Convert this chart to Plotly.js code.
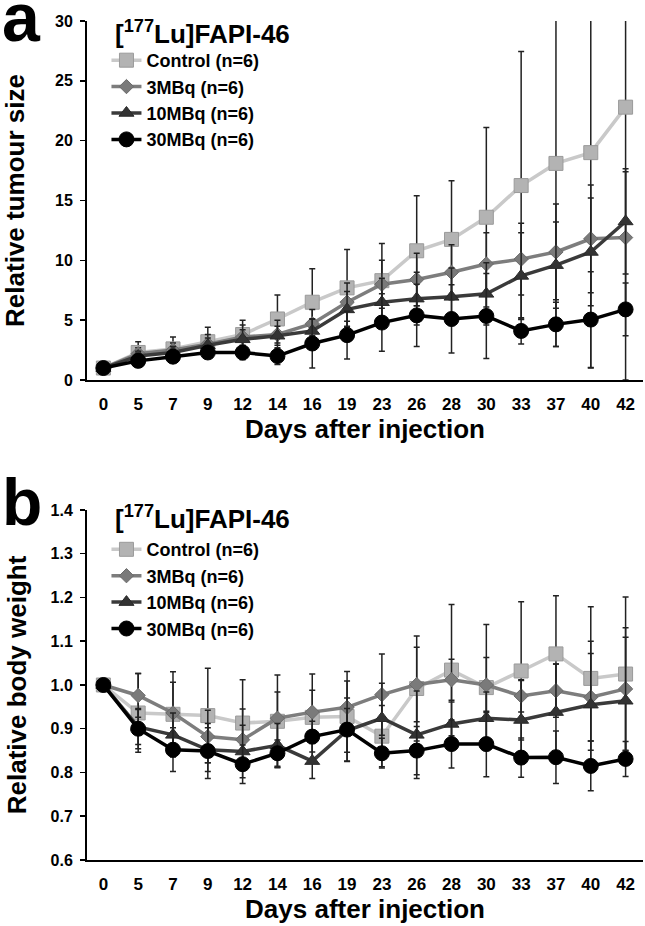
<!DOCTYPE html>
<html><head><meta charset="utf-8">
<script src="https://cdn.plot.ly/plotly-3.0.1.min.js"></script>
<style>html,body{margin:0;padding:0;background:#fff}</style>
</head><body><div id="chart" style="width:645px;height:926px"></div>
<script>
const days = ['0','5','7','9','12','14','16','19','23','26','28','30','33','37','40','42'];
const seriesNames = ['Control (n=6)','3MBq (n=6)','10MBq (n=6)','30MBq (n=6)'];

// Panel a: relative tumour size (mean, SD)
const tumourControl   = [1.0,2.3,2.6,3.2,3.8,5.1,6.5,7.7,8.3,10.8,11.75,13.6,16.25,18.1,19.0,22.8];
const tumourControlSD = [0.05,0.9,1.0,1.2,1.2,2.0,2.8,3.2,3.1,4.6,4.9,7.5,11.2,15.3,18.0,22.8];
const tumour3MBq      = [1.0,2.2,2.5,3.0,3.6,3.8,4.7,6.5,8.0,8.4,9.0,9.7,10.1,10.7,11.8,11.9];
const tumour3MBqSD    = [0.05,0.5,0.6,0.8,1.0,1.2,1.2,1.6,2.0,2.2,2.3,2.6,3.0,4.0,4.5,5.5];
const tumour10MBq     = [1.0,2.0,2.3,2.9,3.4,3.7,4.1,5.9,6.5,6.8,6.95,7.2,8.7,9.6,10.7,13.25];
const tumour10MBqSD   = [0.05,0.4,0.5,0.6,0.8,0.8,1.0,1.5,2.0,2.2,2.4,2.6,3.6,3.6,4.5,4.4];
const tumour30MBq     = [1.0,1.6,1.95,2.3,2.3,2.0,3.05,3.75,4.8,5.4,5.1,5.35,4.1,4.65,5.05,5.9];
const tumour30MBqSD   = [0.05,0.3,0.4,0.5,0.6,0.7,2.05,2.0,2.4,2.6,2.85,3.55,1.1,1.85,4.0,2.2];

// Panel b: relative body weight (mean, SD)
const weightControl   = [1.0,0.936,0.933,0.930,0.913,0.917,0.926,0.928,0.883,0.992,1.034,0.994,1.032,1.071,1.015,1.025];
const weightControlSD = [0.005,0.09,0.097,0.108,0.099,0.106,0.099,0.103,0.07,0.12,0.15,0.144,0.158,0.133,0.164,0.176];
const weight3MBq      = [1.0,0.976,0.936,0.882,0.875,0.924,0.938,0.949,0.978,1.001,1.012,1.0,0.975,0.987,0.972,0.991];
const weight3MBqSD    = [0.005,0.05,0.07,0.06,0.07,0.06,0.05,0.06,0.093,0.085,0.047,0.063,0.037,0.061,0.10,0.14];
const weight10MBq     = [1.0,0.904,0.886,0.852,0.848,0.862,0.826,0.896,0.924,0.886,0.911,0.924,0.920,0.938,0.955,0.964];
const weight10MBqSD   = [0.005,0.04,0.05,0.05,0.06,0.05,0.04,0.05,0.08,0.10,0.05,0.06,0.09,0.11,0.145,0.145];
const weight30MBq     = [1.0,0.90,0.852,0.849,0.819,0.844,0.882,0.898,0.844,0.850,0.865,0.865,0.834,0.835,0.815,0.831];
const weight30MBqSD   = [0.005,0.046,0.05,0.063,0.044,0.03,0.035,0.072,0.034,0.055,0.055,0.075,0.045,0.06,0.057,0.04];

const styles = [
  {line:'#c9c9c9', fill:'#b3b3b3', edge:'#9a9a9a', symbol:'square', size:14},
  {line:'#7d7d7d', fill:'#7a7a7a', edge:'#6a6a6a', symbol:'diamond', size:11},
  {line:'#3a3a3a', fill:'#333333', edge:'#2a2a2a', symbol:'triangle-up', size:13},
  {line:'#000000', fill:'#000000', edge:'#000000', symbol:'circle', size:15}
];

function mk(i, y, sd, xa, ya, lg){
  const s = styles[i];
  return {
    x: days, y: y, name: seriesNames[i], type:'scatter', mode:'lines+markers',
    xaxis: xa, yaxis: ya, legend: lg,
    line:{color:s.line, width:3.5},
    marker:{symbol:s.symbol, size:s.size, color:s.fill, line:{color:s.edge, width:1}},
    error_y:{type:'data', array: sd, visible:true, color:'#222', thickness:1.5, width:3}
  };
}

const data = [
  mk(0, tumourControl, tumourControlSD, 'x','y','legend'),
  mk(1, tumour3MBq, tumour3MBqSD, 'x','y','legend'),
  mk(2, tumour10MBq, tumour10MBqSD, 'x','y','legend'),
  mk(3, tumour30MBq, tumour30MBqSD, 'x','y','legend'),
  mk(0, weightControl, weightControlSD, 'x2','y2','legend2'),
  mk(1, weight3MBq, weight3MBqSD, 'x2','y2','legend2'),
  mk(2, weight10MBq, weight10MBqSD, 'x2','y2','legend2'),
  mk(3, weight30MBq, weight30MBqSD, 'x2','y2','legend2')
];

const FF = 'Liberation Sans, Arial, sans-serif';
const tickFont = {family:FF, size:17, color:'#000', weight:'bold'};
const titleFont = {family:FF, size:26, color:'#000', weight:'bold'};

function xax(anchor){
  return {
    type:'category', anchor: anchor, range:[-0.47,15.5], domain:[0,1],
    showline:true, linecolor:'#000', linewidth:2, ticks:'', showgrid:false, zeroline:false,
    tickfont: tickFont, ticklabelstandoff: 8,
    title:{text:'Days after injection', font:titleFont, standoff:6}
  };
}

const legendBase = {
  font:{family:FF, size:18, color:'#000', weight:'bold'},
  bgcolor:'rgba(0,0,0,0)', borderwidth:0, xanchor:'left', yanchor:'top',
  itemwidth:30, tracegroupgap:0
};

const layout = {
  width:645, height:926,
  margin:{l:87, r:2, t:21, b:66},
  paper_bgcolor:'#fff', plot_bgcolor:'#fff',
  showlegend:true,
  xaxis: xax('y'),
  xaxis2: xax('y2'),
  yaxis: {
    domain:[0.5721,1], range:[0,30], dtick:5, showline:true, linecolor:'#000', linewidth:2,
    ticks:'outside', ticklen:5, tickwidth:1.5, tickcolor:'#000', showgrid:false, zeroline:false,
    tickfont:{family:FF, size:16, color:'#000', weight:'bold'}, ticklabelstandoff:4,
    title:{text:'Relative tumour size', font:titleFont, standoff:24}
  },
  yaxis2: {
    domain:[0,0.4172], range:[0.6,1.4], dtick:0.1, tickformat:'.1f', showline:true, linecolor:'#000', linewidth:2,
    ticks:'outside', ticklen:5, tickwidth:1.5, tickcolor:'#000', showgrid:false, zeroline:false,
    tickfont:{family:FF, size:16, color:'#000', weight:'bold'}, ticklabelstandoff:4,
    title:{text:'Relative body weight', font:titleFont, standoff:16}
  },
  legend: Object.assign({}, legendBase, {x:0.035, y:0.975}),
  legend2: Object.assign({}, legendBase, {x:0.035, y:0.392}),
  annotations:[
    {text:'[<sup>177</sup>Lu]FAPI-46', xref:'paper', yref:'paper', x:0.046, y:0.9857, xanchor:'left', yanchor:'middle', showarrow:false,
     font:{family:FF, size:26, color:'#000', weight:'bold'}},
    {text:'[<sup>177</sup>Lu]FAPI-46', xref:'paper', yref:'paper', x:0.046, y:0.4088, xanchor:'left', yanchor:'middle', showarrow:false,
     font:{family:FF, size:26, color:'#000', weight:'bold'}},
    {text:'a', xref:'paper', yref:'paper', x:-0.1565, y:1.005, xanchor:'left', yanchor:'middle', showarrow:false,
     font:{family:FF, size:68, color:'#000', weight:'bold'}},
    {text:'b', xref:'paper', yref:'paper', x:-0.1565, y:0.4732, xanchor:'left', yanchor:'top', showarrow:false,
     font:{family:FF, size:66, color:'#000', weight:'bold'}}
  ]
};

Plotly.newPlot('chart', data, layout, {displayModeBar:false, staticPlot:true});
</script>
</body></html>
